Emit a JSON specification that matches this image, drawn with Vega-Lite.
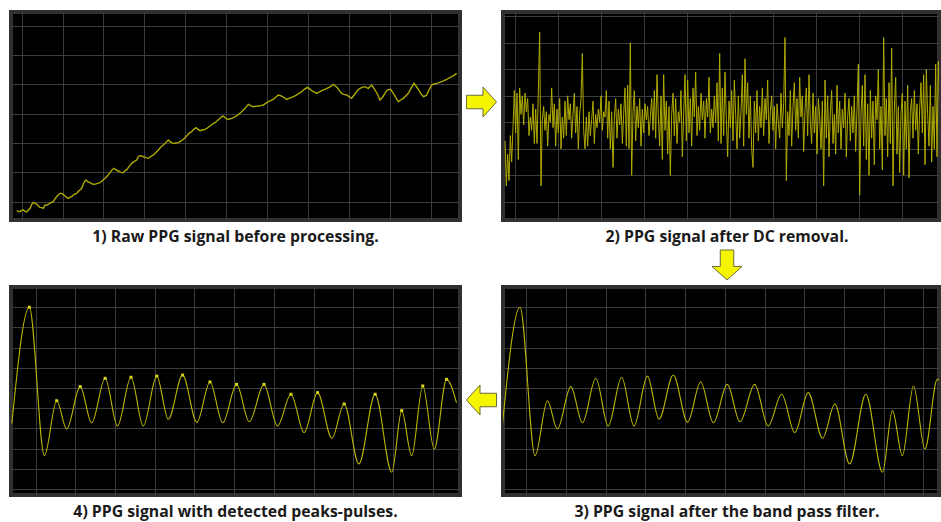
{
"$schema": "https://vega.github.io/schema/vega-lite/v6.json",
"background": "white",
"padding": {"left": 9, "top": 10, "right": 0, "bottom": 0},
"config": {
  "view": {"fill": "black", "stroke": "#303030", "strokeWidth": 4},
  "axis": {"grid": true, "gridColor": "#3c3c3c", "gridWidth": 1, "labels": false, "ticks": false, "domain": false},
  "title": {"orient": "bottom", "fontSize": 15.8, "font": "Open Sans", "fontWeight": "bold", "color": "#1a1a1a", "offset": 10}
},
"datasets": {
"raw": [{"n":50,"v":68},{"n":55,"v":66},{"n":60,"v":65},{"n":65,"v":69},{"n":70,"v":70},{"n":75,"v":66},{"n":80,"v":64},{"n":85,"v":70},{"n":90,"v":75},{"n":95,"v":86},{"n":100,"v":93},{"n":105,"v":90},{"n":110,"v":88},{"n":115,"v":82},{"n":120,"v":78},{"n":125,"v":77},{"n":130,"v":75},{"n":135,"v":85},{"n":140,"v":84},{"n":145,"v":88},{"n":150,"v":90},{"n":155,"v":93},{"n":160,"v":95},{"n":165,"v":103},{"n":170,"v":110},{"n":175,"v":115},{"n":180,"v":120},{"n":185,"v":120},{"n":190,"v":116},{"n":195,"v":112},{"n":200,"v":108},{"n":205,"v":105},{"n":210,"v":108},{"n":215,"v":110},{"n":220,"v":115},{"n":225,"v":118},{"n":230,"v":120},{"n":235,"v":126},{"n":240,"v":130},{"n":245,"v":135},{"n":250,"v":148},{"n":255,"v":157},{"n":258,"v":160},{"n":263,"v":155},{"n":270,"v":152},{"n":277,"v":148},{"n":285,"v":147},{"n":292,"v":150},{"n":300,"v":152},{"n":307,"v":158},{"n":315,"v":165},{"n":322,"v":172},{"n":330,"v":182},{"n":336,"v":190},{"n":342,"v":195},{"n":348,"v":190},{"n":355,"v":187},{"n":362,"v":183},{"n":370,"v":182},{"n":375,"v":188},{"n":380,"v":190},{"n":387,"v":200},{"n":395,"v":210},{"n":402,"v":215},{"n":410,"v":220},{"n":414,"v":228},{"n":418,"v":233},{"n":424,"v":232},{"n":430,"v":230},{"n":437,"v":227},{"n":445,"v":225},{"n":452,"v":230},{"n":460,"v":235},{"n":467,"v":242},{"n":475,"v":250},{"n":482,"v":258},{"n":490,"v":265},{"n":497,"v":272},{"n":505,"v":280},{"n":510,"v":275},{"n":515,"v":272},{"n":520,"v":270},{"n":528,"v":271},{"n":535,"v":272},{"n":541,"v":276},{"n":548,"v":280},{"n":554,"v":286},{"n":560,"v":292},{"n":567,"v":300},{"n":575,"v":305},{"n":581,"v":312},{"n":588,"v":317},{"n":594,"v":312},{"n":600,"v":308},{"n":607,"v":310},{"n":615,"v":312},{"n":622,"v":316},{"n":630,"v":322},{"n":637,"v":328},{"n":645,"v":332},{"n":652,"v":338},{"n":660,"v":345},{"n":665,"v":350},{"n":670,"v":352},{"n":676,"v":346},{"n":682,"v":342},{"n":688,"v":343},{"n":695,"v":345},{"n":702,"v":348},{"n":710,"v":352},{"n":717,"v":358},{"n":725,"v":365},{"n":735,"v":375},{"n":745,"v":387},{"n":752,"v":383},{"n":760,"v":380},{"n":767,"v":381},{"n":775,"v":382},{"n":782,"v":383},{"n":790,"v":385},{"n":797,"v":390},{"n":805,"v":395},{"n":812,"v":398},{"n":820,"v":402},{"n":827,"v":408},{"n":835,"v":415},{"n":841,"v":413},{"n":848,"v":410},{"n":854,"v":406},{"n":860,"v":402},{"n":867,"v":405},{"n":875,"v":408},{"n":882,"v":411},{"n":890,"v":415},{"n":897,"v":420},{"n":905,"v":425},{"n":913,"v":432},{"n":922,"v":438},{"n":928,"v":434},{"n":935,"v":428},{"n":942,"v":424},{"n":950,"v":420},{"n":957,"v":424},{"n":965,"v":428},{"n":972,"v":431},{"n":980,"v":434},{"n":987,"v":438},{"n":995,"v":442},{"n":1000,"v":447},{"n":1006,"v":442},{"n":1012,"v":437},{"n":1018,"v":428},{"n":1025,"v":420},{"n":1032,"v":417},{"n":1040,"v":415},{"n":1047,"v":410},{"n":1055,"v":405},{"n":1060,"v":412},{"n":1065,"v":418},{"n":1072,"v":428},{"n":1080,"v":435},{"n":1087,"v":438},{"n":1095,"v":440},{"n":1100,"v":437},{"n":1105,"v":435},{"n":1110,"v":440},{"n":1115,"v":445},{"n":1120,"v":438},{"n":1125,"v":430},{"n":1132,"v":418},{"n":1140,"v":400},{"n":1145,"v":405},{"n":1150,"v":412},{"n":1156,"v":422},{"n":1162,"v":430},{"n":1167,"v":432},{"n":1172,"v":432},{"n":1176,"v":426},{"n":1180,"v":420},{"n":1187,"v":408},{"n":1195,"v":395},{"n":1202,"v":400},{"n":1210,"v":405},{"n":1217,"v":412},{"n":1225,"v":420},{"n":1233,"v":435},{"n":1242,"v":450},{"n":1248,"v":442},{"n":1255,"v":432},{"n":1262,"v":420},{"n":1270,"v":410},{"n":1275,"v":412},{"n":1280,"v":415},{"n":1287,"v":430},{"n":1295,"v":445},{"n":1302,"v":448},{"n":1310,"v":450},{"n":1317,"v":452},{"n":1325,"v":455},{"n":1332,"v":458},{"n":1340,"v":462},{"n":1347,"v":466},{"n":1355,"v":470},{"n":1362,"v":474},{"n":1370,"v":480}],
"dc": [{"n":135,"v":-0.7},{"n":139,"v":-2.4},{"n":143,"v":-1.2},{"n":147,"v":-2.2},{"n":151,"v":-0.5},{"n":155,"v":-1.5},{"n":159,"v":-0.2},{"n":163,"v":1.2},{"n":167,"v":-0.4},{"n":171,"v":1.1},{"n":175,"v":-1.4},{"n":179,"v":1.3},{"n":183,"v":0.3},{"n":187,"v":1.0},{"n":191,"v":-0.1},{"n":195,"v":1.1},{"n":199,"v":0.4},{"n":203,"v":0.9},{"n":207,"v":-0.5},{"n":211,"v":0.2},{"n":215,"v":-0.3},{"n":219,"v":0.7},{"n":223,"v":-0.8},{"n":227,"v":0.5},{"n":231,"v":-0.8},{"n":235,"v":1.2},{"n":239,"v":3.4},{"n":243,"v":-2.4},{"n":247,"v":0.1},{"n":251,"v":0.6},{"n":255,"v":-0.3},{"n":259,"v":0.4},{"n":263,"v":-0.9},{"n":267,"v":0.3},{"n":271,"v":0.0},{"n":275,"v":1.3},{"n":279,"v":-0.2},{"n":283,"v":0.7},{"n":287,"v":-0.9},{"n":291,"v":0.5},{"n":295,"v":-0.4},{"n":299,"v":0.9},{"n":303,"v":-1.0},{"n":307,"v":0.2},{"n":311,"v":-0.6},{"n":315,"v":0.8},{"n":319,"v":-0.5},{"n":323,"v":1.0},{"n":327,"v":0.1},{"n":331,"v":0.7},{"n":335,"v":-0.6},{"n":339,"v":0.3},{"n":343,"v":1.1},{"n":347,"v":-0.4},{"n":351,"v":0.6},{"n":355,"v":-1.0},{"n":359,"v":0.3},{"n":363,"v":0.9},{"n":367,"v":2.6},{"n":371,"v":-0.3},{"n":375,"v":-1.0},{"n":379,"v":0.2},{"n":383,"v":-0.9},{"n":387,"v":0.4},{"n":391,"v":-0.5},{"n":395,"v":0.1},{"n":399,"v":0.8},{"n":403,"v":-0.8},{"n":407,"v":0.3},{"n":411,"v":-0.2},{"n":415,"v":0.5},{"n":419,"v":0.0},{"n":423,"v":1.0},{"n":427,"v":-0.3},{"n":431,"v":0.4},{"n":435,"v":0.2},{"n":439,"v":1.2},{"n":443,"v":-0.6},{"n":447,"v":0.8},{"n":451,"v":-1.0},{"n":455,"v":0.4},{"n":459,"v":-1.7},{"n":463,"v":0.2},{"n":467,"v":0.9},{"n":471,"v":-0.6},{"n":475,"v":0.5},{"n":479,"v":-0.1},{"n":483,"v":0.7},{"n":487,"v":-0.8},{"n":491,"v":0.3},{"n":495,"v":1.3},{"n":499,"v":-0.9},{"n":503,"v":1.4},{"n":507,"v":-1.0},{"n":511,"v":3.0},{"n":515,"v":-2.0},{"n":519,"v":0.4},{"n":523,"v":1.2},{"n":527,"v":-0.7},{"n":531,"v":0.6},{"n":535,"v":-0.2},{"n":539,"v":0.9},{"n":543,"v":-0.9},{"n":547,"v":0.5},{"n":551,"v":-0.4},{"n":555,"v":0.7},{"n":559,"v":0.1},{"n":563,"v":0.6},{"n":567,"v":-0.5},{"n":571,"v":0.2},{"n":575,"v":0.9},{"n":579,"v":-0.3},{"n":583,"v":1.2},{"n":587,"v":-0.6},{"n":591,"v":1.8},{"n":595,"v":0.2},{"n":599,"v":-0.9},{"n":603,"v":1.0},{"n":607,"v":-1.4},{"n":611,"v":1.8},{"n":615,"v":-0.3},{"n":619,"v":0.8},{"n":623,"v":-1.2},{"n":627,"v":0.6},{"n":631,"v":-2.0},{"n":635,"v":0.3},{"n":639,"v":1.1},{"n":643,"v":-0.5},{"n":647,"v":0.9},{"n":651,"v":-0.8},{"n":655,"v":0.4},{"n":659,"v":0.0},{"n":663,"v":1.2},{"n":667,"v":-1.3},{"n":671,"v":0.3},{"n":675,"v":1.8},{"n":679,"v":-0.7},{"n":683,"v":1.6},{"n":687,"v":-0.4},{"n":691,"v":0.9},{"n":695,"v":-0.9},{"n":699,"v":1.3},{"n":703,"v":0.2},{"n":707,"v":1.9},{"n":711,"v":-0.5},{"n":715,"v":0.6},{"n":719,"v":-0.3},{"n":723,"v":1.1},{"n":727,"v":0.1},{"n":731,"v":0.8},{"n":735,"v":-0.6},{"n":739,"v":0.9},{"n":743,"v":0.2},{"n":747,"v":1.7},{"n":751,"v":-0.4},{"n":755,"v":0.5},{"n":759,"v":-0.2},{"n":763,"v":1.0},{"n":767,"v":0.0},{"n":771,"v":1.5},{"n":775,"v":-0.7},{"n":779,"v":2.6},{"n":783,"v":-0.8},{"n":787,"v":1.3},{"n":791,"v":-0.5},{"n":795,"v":1.9},{"n":799,"v":0.1},{"n":803,"v":-1.3},{"n":807,"v":0.8},{"n":811,"v":-0.2},{"n":815,"v":1.2},{"n":819,"v":-0.7},{"n":823,"v":1.6},{"n":827,"v":0.3},{"n":831,"v":-1.0},{"n":835,"v":1.0},{"n":839,"v":-0.6},{"n":843,"v":0.4},{"n":847,"v":1.8},{"n":851,"v":-0.9},{"n":855,"v":2.4},{"n":859,"v":0.3},{"n":863,"v":1.5},{"n":867,"v":-0.6},{"n":871,"v":1.0},{"n":875,"v":-1.0},{"n":879,"v":-1.7},{"n":883,"v":0.8},{"n":887,"v":-0.4},{"n":891,"v":1.2},{"n":895,"v":-0.7},{"n":899,"v":0.6},{"n":903,"v":-0.2},{"n":907,"v":1.3},{"n":911,"v":-0.5},{"n":915,"v":0.9},{"n":919,"v":0.1},{"n":923,"v":1.6},{"n":927,"v":-0.8},{"n":931,"v":0.4},{"n":935,"v":1.0},{"n":939,"v":-0.3},{"n":943,"v":0.6},{"n":947,"v":-1.0},{"n":951,"v":0.7},{"n":955,"v":0.0},{"n":959,"v":-0.6},{"n":963,"v":1.1},{"n":967,"v":-0.2},{"n":971,"v":0.7},{"n":975,"v":3.2},{"n":979,"v":-2.2},{"n":983,"v":0.4},{"n":987,"v":-0.5},{"n":991,"v":1.2},{"n":995,"v":-0.9},{"n":999,"v":0.6},{"n":1003,"v":1.5},{"n":1007,"v":-0.3},{"n":1011,"v":0.9},{"n":1015,"v":-0.6},{"n":1019,"v":1.7},{"n":1023,"v":0.2},{"n":1027,"v":1.0},{"n":1031,"v":-1.1},{"n":1035,"v":0.5},{"n":1039,"v":1.3},{"n":1043,"v":-0.5},{"n":1047,"v":1.8},{"n":1051,"v":0.0},{"n":1055,"v":-0.8},{"n":1059,"v":1.1},{"n":1063,"v":-0.4},{"n":1067,"v":0.6},{"n":1071,"v":-1.2},{"n":1075,"v":0.9},{"n":1079,"v":0.2},{"n":1083,"v":-1.0},{"n":1087,"v":0.8},{"n":1091,"v":-2.4},{"n":1095,"v":1.6},{"n":1099,"v":-0.6},{"n":1103,"v":1.0},{"n":1107,"v":-1.3},{"n":1111,"v":0.4},{"n":1115,"v":1.2},{"n":1119,"v":-0.8},{"n":1123,"v":0.3},{"n":1127,"v":-1.2},{"n":1131,"v":1.4},{"n":1135,"v":-0.4},{"n":1139,"v":0.8},{"n":1143,"v":-1.0},{"n":1147,"v":0.5},{"n":1151,"v":-0.2},{"n":1155,"v":1.1},{"n":1159,"v":-1.3},{"n":1163,"v":0.2},{"n":1167,"v":0.9},{"n":1171,"v":-0.7},{"n":1175,"v":0.6},{"n":1179,"v":-0.4},{"n":1183,"v":1.0},{"n":1187,"v":-1.1},{"n":1191,"v":0.5},{"n":1195,"v":2.2},{"n":1199,"v":-2.75},{"n":1203,"v":0.3},{"n":1207,"v":1.4},{"n":1211,"v":-0.9},{"n":1215,"v":1.8},{"n":1219,"v":-1.4},{"n":1223,"v":0.7},{"n":1227,"v":-2.0},{"n":1231,"v":1.2},{"n":1235,"v":-0.6},{"n":1239,"v":0.8},{"n":1243,"v":-1.6},{"n":1247,"v":1.0},{"n":1251,"v":0.1},{"n":1255,"v":2.0},{"n":1259,"v":-1.0},{"n":1263,"v":0.6},{"n":1267,"v":-1.8},{"n":1271,"v":3.2},{"n":1275,"v":-0.5},{"n":1279,"v":0.9},{"n":1283,"v":-1.3},{"n":1287,"v":1.5},{"n":1291,"v":-0.8},{"n":1295,"v":2.8},{"n":1299,"v":-2.4},{"n":1303,"v":0.5},{"n":1307,"v":1.7},{"n":1311,"v":-1.2},{"n":1315,"v":0.6},{"n":1319,"v":-1.9},{"n":1323,"v":0.3},{"n":1327,"v":1.1},{"n":1331,"v":-2.0},{"n":1335,"v":0.8},{"n":1339,"v":-1.0},{"n":1343,"v":1.4},{"n":1347,"v":-2.1},{"n":1351,"v":0.4},{"n":1355,"v":0.9},{"n":1359,"v":-0.6},{"n":1363,"v":1.2},{"n":1367,"v":-0.3},{"n":1371,"v":0.7},{"n":1375,"v":-1.2},{"n":1379,"v":0.5},{"n":1383,"v":1.5},{"n":1387,"v":-0.4},{"n":1391,"v":1.8},{"n":1395,"v":-1.6},{"n":1399,"v":2.0},{"n":1403,"v":0.3},{"n":1407,"v":-0.9},{"n":1411,"v":1.4},{"n":1415,"v":-1.5},{"n":1419,"v":0.6},{"n":1423,"v":-1.0},{"n":1427,"v":2.2},{"n":1431,"v":-1.3},{"n":1435,"v":2.3},{"n":1439,"v":0.5}],
"bp": [{"t":-0.6,"v":-1.75,"k":"s"},{"t":-0.16,"v":4.0,"k":"p"},{"t":0.22,"v":-3.35,"k":"t"},{"t":0.53,"v":-0.63,"k":"p"},{"t":0.78,"v":-2.03,"k":"t"},{"t":1.12,"v":0.07,"k":"p"},{"t":1.41,"v":-1.72,"k":"t"},{"t":1.75,"v":0.48,"k":"p"},{"t":2.06,"v":-1.88,"k":"t"},{"t":2.4,"v":0.53,"k":"p"},{"t":2.71,"v":-1.88,"k":"t"},{"t":3.05,"v":0.59,"k":"p"},{"t":3.34,"v":-1.55,"k":"t"},{"t":3.7,"v":0.64,"k":"p"},{"t":4.06,"v":-1.7,"k":"t"},{"t":4.39,"v":0.3,"k":"p"},{"t":4.71,"v":-1.72,"k":"t"},{"t":5.06,"v":0.18,"k":"p"},{"t":5.38,"v":-1.67,"k":"t"},{"t":5.75,"v":0.18,"k":"p"},{"t":6.09,"v":-1.88,"k":"t"},{"t":6.43,"v":-0.31,"k":"p"},{"t":6.76,"v":-2.21,"k":"t"},{"t":7.1,"v":-0.23,"k":"p"},{"t":7.46,"v":-2.49,"k":"t"},{"t":7.77,"v":-0.79,"k":"p"},{"t":8.14,"v":-3.76,"k":"t"},{"t":8.55,"v":-0.31,"k":"p"},{"t":8.97,"v":-4.17,"k":"t"},{"t":9.22,"v":-1.12,"k":"p"},{"t":9.47,"v":-3.35,"k":"t"},{"t":9.75,"v":0.1,"k":"p"},{"t":10.04,"v":-3.02,"k":"t"},{"t":10.35,"v":0.43,"k":"p"},{"t":10.6,"v":-0.73,"k":"s"}],
"arrow": [{"a": 1}]
},
"spacing": 3,
"vconcat": [
  {"spacing": 2, "hconcat": [
    {"width": 449, "height": 208,
     "title": {"text": "1) Raw PPG signal before processing."},
     "data": {"name": "raw"},
     "mark": {"type": "line", "color": "#aeaa00", "strokeWidth": 1.4, "clip": true},
     "encoding": {
       "x": {"field": "n", "type": "quantitative", "scale": {"domain": [33, 1380], "nice": false, "zero": false}, "axis": {"title": null, "values": [65, 188, 310, 433, 556, 679, 802, 925, 1047, 1170, 1293]}},
       "y": {"field": "v", "type": "quantitative", "scale": {"domain": [40, 664], "nice": false, "zero": false}, "axis": {"title": null, "values": [95, 183, 271, 359, 447, 535, 623]}}
     }},
    {"width": 33, "height": 180, "view": {"fill": null, "stroke": null},
     "data": {"name": "arrow"},
     "mark": {"type": "point", "shape": "M -1 -0.45 L 0.1 -0.45 L 0.1 -1 L 1 0 L 0.1 1 L 0.1 0.45 L -1 0.45 Z", "size": 900, "filled": true, "fill": "#f5f500", "stroke": "#6b6b3a", "strokeWidth": 1, "opacity": 1}},
    {"spacing": 1, "vconcat": [
      {"width": 436, "height": 208,
       "title": {"text": "2) PPG signal after DC removal.", "dx": 6},
       "data": {"name": "dc"},
       "mark": {"type": "line", "color": "#b0ab00", "strokeWidth": 1, "clip": true},
       "encoding": {
         "x": {"field": "n", "type": "quantitative", "scale": {"domain": [129, 1437], "nice": false, "zero": false}, "axis": {"title": null, "values": [165, 294, 423, 552, 681, 809, 938, 1067, 1196, 1325]}},
         "y": {"field": "v", "type": "quantitative", "scale": {"domain": [-3.686, 4.164], "nice": false, "zero": false}, "axis": {"title": null, "values": [-3, -2, -1, 0, 1, 2, 3, 4]}}
       }},
      {"width": 448, "height": 30, "view": {"fill": null, "stroke": null},
       "data": {"name": "arrow"},
       "mark": {"type": "point", "shape": "M -1 -0.45 L 0.1 -0.45 L 0.1 -1 L 1 0 L 0.1 1 L 0.1 0.45 L -1 0.45 Z", "angle": 90, "size": 900, "filled": true, "fill": "#f5f500", "stroke": "#6b6b3a", "strokeWidth": 1, "opacity": 1}}
    ]}
  ]},
  {"spacing": 2, "hconcat": [
    {"width": 449, "height": 208,
     "title": {"text": "4) PPG signal with detected peaks-pulses."},
     "data": {"name": "bp"},
     "encoding": {
       "x": {"field": "t", "type": "quantitative", "scale": {"domain": [-0.622, 10.688], "nice": false, "zero": false}, "axis": {"title": null, "values": [0,1,2,3,4,5,6,7,8,9,10]}},
       "y": {"field": "v", "type": "quantitative", "scale": {"domain": [-5.297, 5.0], "nice": false, "zero": false}, "axis": {"title": null, "values": [-5,-4,-3,-2,-1,0,1,2,3,4]}}
     },
     "layer": [
       {"mark": {"type": "line", "color": "#bcb800", "strokeWidth": 1.1, "interpolate": "monotone", "clip": true}},
       {"transform": [{"filter": "datum.k == 'p'"}], "mark": {"type": "point", "shape": "square", "size": 9, "filled": true, "color": "#d8d420", "opacity": 1}}
     ]},
    {"width": 33, "height": 226, "view": {"fill": null, "stroke": null},
     "data": {"name": "arrow"},
     "mark": {"type": "point", "shape": "M -1 -0.45 L 0.1 -0.45 L 0.1 -1 L 1 0 L 0.1 1 L 0.1 0.45 L -1 0.45 Z", "angle": 180, "size": 900, "filled": true, "fill": "#f5f500", "stroke": "#6b6b3a", "strokeWidth": 1, "opacity": 1}},
    {"width": 436, "height": 208,
     "title": {"text": "3) PPG signal after the band pass filter.", "dx": 6},
     "data": {"name": "bp"},
     "mark": {"type": "line", "color": "#bcb800", "strokeWidth": 1.1, "interpolate": "monotone", "clip": true},
     "encoding": {
       "x": {"field": "t", "type": "quantitative", "scale": {"domain": [-0.589, 10.393], "nice": false, "zero": false}, "axis": {"title": null, "values": [0,1,2,3,4,5,6,7,8,9,10]}},
       "y": {"field": "v", "type": "quantitative", "scale": {"domain": [-5.297, 5.0], "nice": false, "zero": false}, "axis": {"title": null, "values": [-5,-4,-3,-2,-1,0,1,2,3,4]}}
     }}
  ]}
]
}
